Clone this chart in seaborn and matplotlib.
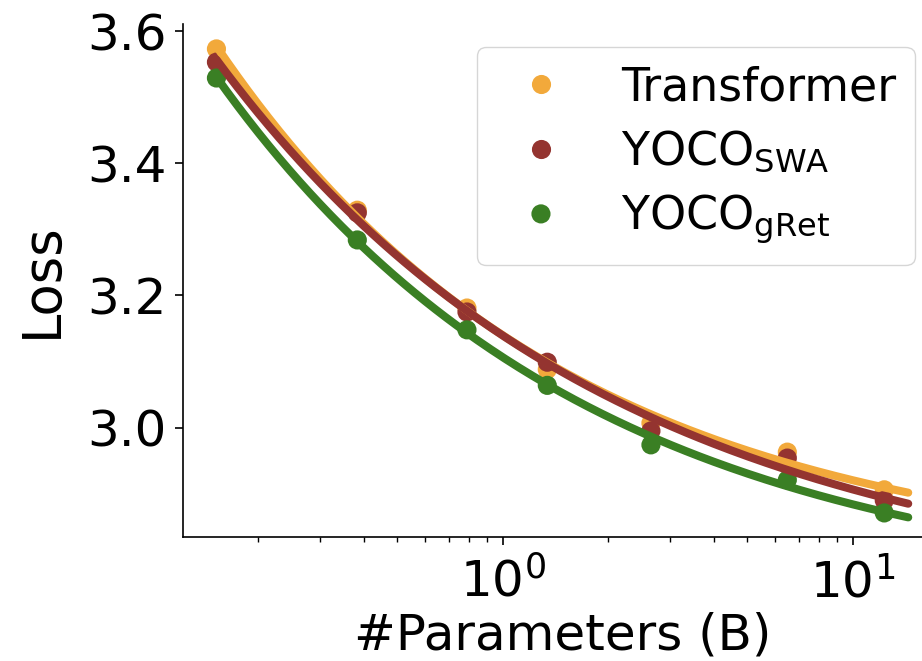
import numpy as np
import pandas as pd
import matplotlib
matplotlib.use('Agg')
import matplotlib.pyplot as plt
import matplotlib.patheffects as pe
import seaborn as sns

params = [0.152, 0.384, 0.79, 1.34, 2.65, 6.5, 12.3]
loss_transformer = [3.573, 3.329, 3.181, 3.088, 3.007, 2.963, 2.906]
loss_swa = [3.553, 3.325, 3.175, 3.099, 2.995, 2.954, 2.890]
loss_gret = [3.529, 3.284, 3.148, 3.064, 2.974, 2.921, 2.871]

names = ['Transformer', r'YOCO$_{\rm SWA}$', r'YOCO$_{\rm gRet}$']
colors = ['#F2A93B', '#943430', '#3A7F24']
series = [loss_transformer, loss_swa, loss_gret]

sns.set_style('ticks')
plt.rcParams['font.family'] = ['DejaVu Sans']
plt.rcParams['mathtext.fontset'] = 'dejavusans'
plt.rcParams['text.color'] = 'black'
plt.rcParams['axes.labelcolor'] = 'black'
plt.rcParams['xtick.color'] = 'black'
plt.rcParams['ytick.color'] = 'black'

df = pd.DataFrame({
    'params': params * 3,
    'loss': loss_transformer + loss_swa + loss_gret,
    'model': [n for n in names for _ in params],
})


def fit_power(x, y):
    # L = a * N^-b + c, b by grid search, a and c by least squares
    x = np.asarray(x)
    y = np.asarray(y)
    best = None
    for b in np.linspace(0.02, 1.5, 1000):
        A = np.column_stack([x ** -b, np.ones_like(x)])
        coef, res, _, _ = np.linalg.lstsq(A, y, rcond=None)
        err = np.sum((A @ coef - y) ** 2)
        if best is None or err < best[0]:
            best = (err, b, coef)
    _, b, (a, c) = best
    return lambda n: a * n ** -b + c


grid = np.logspace(np.log10(params[0]), np.log10(14.4), 200)
fits = []
for name, ys in zip(names, series):
    f = fit_power(params, ys)
    fits.append(pd.DataFrame({'params': grid, 'loss': f(grid), 'model': name}))
fit_df = pd.concat(fits)

fig = plt.figure(figsize=(9.22, 6.61), dpi=100)
ax = fig.add_axes([0.1985, 0.1876, 0.824, 0.776])

sns.scatterplot(data=df, x='params', y='loss', hue='model', hue_order=names,
                palette=colors, s=190, linewidth=0, ax=ax, zorder=2)
handles, labels = ax.get_legend_handles_labels()

sns.lineplot(data=fit_df, x='params', y='loss', hue='model', hue_order=names,
             palette=colors, linewidth=5.8, ax=ax, legend=False, zorder=3)
ax.lines[2].set_path_effects([pe.Stroke(linewidth=7.4, foreground='white'), pe.Normal()])

ax.set_xscale('log')
ax.set_xlim(0.122, 18.07)
ax.set_ylim(2.8346, 3.6106)
ax.set_yticks([3.0, 3.2, 3.4, 3.6])

ax.set_xlabel('#Parameters (B)', fontsize=36, labelpad=3)
ax.set_ylabel('Loss', fontsize=38, labelpad=14)
ax.tick_params(axis='both', which='major', labelsize=36, length=6, width=1.2)
ax.tick_params(axis='y', which='major', pad=6)
ax.tick_params(axis='x', which='major', pad=9)
ax.tick_params(axis='x', which='minor', length=3.5, width=1.0)

for side in ['left', 'bottom']:
    ax.spines[side].set_color('black')
    ax.spines[side].set_linewidth(1.2)
sns.despine(ax=ax)

ax.legend(handles, labels, loc='upper right', bbox_to_anchor=(0.963, 0.955),
          borderaxespad=0, fontsize=33, handletextpad=0.75,
          labelspacing=0.4, frameon=True)

fig.savefig('out.png', dpi=100)
